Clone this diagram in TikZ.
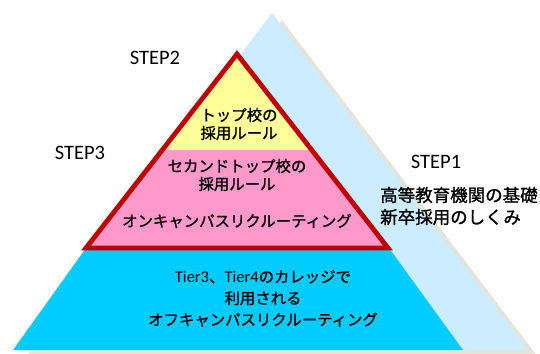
\documentclass[tikz,border=0pt]{standalone}
\usepackage{fontspec}
\setmainfont{Carlito}
\newfontfamily\jp[RawFeature={embolden=1.2}]{Noto Sans CJK JP}
\newfontfamily\lat{Carlito}
\definecolor{paleblue}{HTML}{CCECFF}
\definecolor{shadowgray}{HTML}{E6E4D8}
\definecolor{cyanfill}{HTML}{00CCFF}
\definecolor{yellowfill}{HTML}{FFFF99}
\definecolor{pinkfill}{HTML}{FF99CC}
\definecolor{redline}{HTML}{C00000}
\tikzset{
  txt/.style={inner sep=0pt, text=black},
  pyr/.style={txt, align=center, font=\jp\fontsize{15.4}{18}\selectfont},
  steplabel/.style={txt, font=\lat\fontsize{20.5}{24}\selectfont},
}
\begin{document}
\begin{tikzpicture}[x=1pt,y=-1pt]
\useasboundingbox (0,0) rectangle (540,353);
% big background triangle with shadow
\coordinate (bA) at (272,13);
\coordinate (bL) at (16,350);
\coordinate (bR) at (528,350);
\fill[shadowgray] ([shift={(10,7)}]bA) -- ([shift={(10,7)}]bR) -- ([shift={(10,7)}]bL) -- cycle;
\fill[paleblue] (bA) -- (bR) -- (bL) -- cycle;
% cyan trapezoid
\coordinate (cTL) at (86,248);
\coordinate (cTR) at (389,248);
\coordinate (cBR) at (463,350);
\coordinate (cBL) at (13,350);
\fill[cyanfill] (cTL) -- (cTR) -- (cBR) -- (cBL) -- cycle;
% red-bordered triangle
\coordinate (rA) at (237,54);
\coordinate (rL) at (86,248);
\coordinate (rR) at (388,248);
\coordinate (yL) at (162.3,150);
\coordinate (yR) at (311.7,150);
\fill[pinkfill] (rA) -- (rR) -- (rL) -- cycle;
\fill[yellowfill] (rA) -- (yR) -- (yL) -- cycle;
\draw[redline, line width=4.8pt, line join=miter] (rA) -- (rR) -- (rL) -- cycle;
% texts
\node[pyr] (top) at (239,124) {トップ校の\\採用ルール};
\node[pyr] (second) at (237,175) {セカンドトップ校の\\採用ルール};
\node[pyr] (oncampus) at (237,221) {オンキャンパスリクルーティング};
\node[txt, align=center, font=\jp\fontsize{15.4}{21.5}\selectfont] (tier) at (263,298.5)
  {{\lat\fontsize{16.5}{21.5}\selectfont Tier3}、{\lat\fontsize{16.5}{21.5}\selectfont Tier4}のカレッジで\\利用される\\オフキャンパスリクルーティング};
\node[steplabel] (s2) at (155,58) {STEP2};
\node[steplabel] (s3) at (80,153) {STEP3};
\node[steplabel] (s1) at (436,162) {STEP1};
\node[txt, anchor=west, align=left, font=\jp\fontsize{17.5}{22}\selectfont] (base) at (380,206)
  {高等教育機関の基礎\\新卒採用のしくみ};
\end{tikzpicture}
\end{document}
